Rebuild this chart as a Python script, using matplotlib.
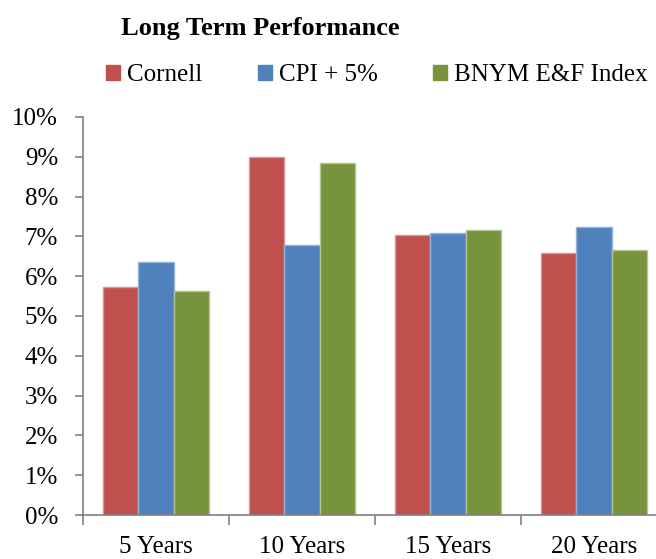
import matplotlib
matplotlib.use("Agg")
import matplotlib.pyplot as plt
import numpy as np
from matplotlib.patches import Patch
from matplotlib.ticker import FixedLocator, NullFormatter

categories = ["5 Years", "10 Years", "15 Years", "20 Years"]
series_names = ["Cornell", "CPI + 5%", "BNYM E&F Index"]
cornell = [5.72, 9.00, 7.04, 6.58]
cpi_plus_5 = [6.35, 6.78, 7.08, 7.23]
bnym = [5.62, 8.84, 7.15, 6.66]
yticks = [0, 1, 2, 3, 4, 5, 6, 7, 8, 9, 10]
ytick_labels = [f"{v}%" for v in yticks]

colors = ["#C0504D", "#4F81BD", "#77933C"]
edges = ["#D99694", "#95B3D7", "#B3C68F"]

plt.rcParams["font.family"] = ["Liberation Serif", "DejaVu Serif"]

fig = plt.figure(figsize=(6.56, 5.59), dpi=100)
ax = fig.add_axes([83/656, 44/559, 584/656, 398/559])

x = np.arange(len(categories))
w = 0.24
for i, (vals, c, ec, name) in enumerate(zip([cornell, cpi_plus_5, bnym], colors, edges, series_names)):
    ax.bar(x + (i - 1) * w, vals, width=w, color=c, edgecolor=ec, linewidth=1.0, label=name, zorder=2)

ax.set_xlim(-0.5, 3.5)
ax.set_ylim(0, 10)
ax.set_yticks(yticks)
ax.set_yticklabels(ytick_labels)
ax.set_xticks(x)
ax.set_xticklabels(categories)
ax.xaxis.set_minor_locator(FixedLocator([-0.5, 0.5, 1.5, 2.5, 3.5]))
ax.xaxis.set_minor_formatter(NullFormatter())
ax.tick_params(axis="x", which="major", length=0, pad=15, labelsize=18)
ax.tick_params(axis="x", which="minor", length=7, width=1.2, color="#808080", direction="out")
ax.tick_params(axis="y", which="major", length=6, width=1.2, color="#808080", direction="out", pad=12, labelsize=18)

for s in ["top", "right"]:
    ax.spines[s].set_visible(False)
for s in ["left", "bottom"]:
    ax.spines[s].set_color("#808080")
    ax.spines[s].set_linewidth(1.2)

fig.text(260/656, 1 - 28/559, "Long Term Performance", ha="center", va="center",
         fontsize=19, fontweight="bold")

handles = [Patch(facecolor=c, edgecolor=c) for c in colors]
fig.legend(handles, series_names, loc="center", bbox_to_anchor=(377/656, 1 - 75/559),
           ncol=3, frameon=False, fontsize=18, handlelength=0.55, handleheight=0.55,
           handletextpad=0.3, columnspacing=2.2, borderaxespad=0)

fig.savefig("out.png", dpi=100)
